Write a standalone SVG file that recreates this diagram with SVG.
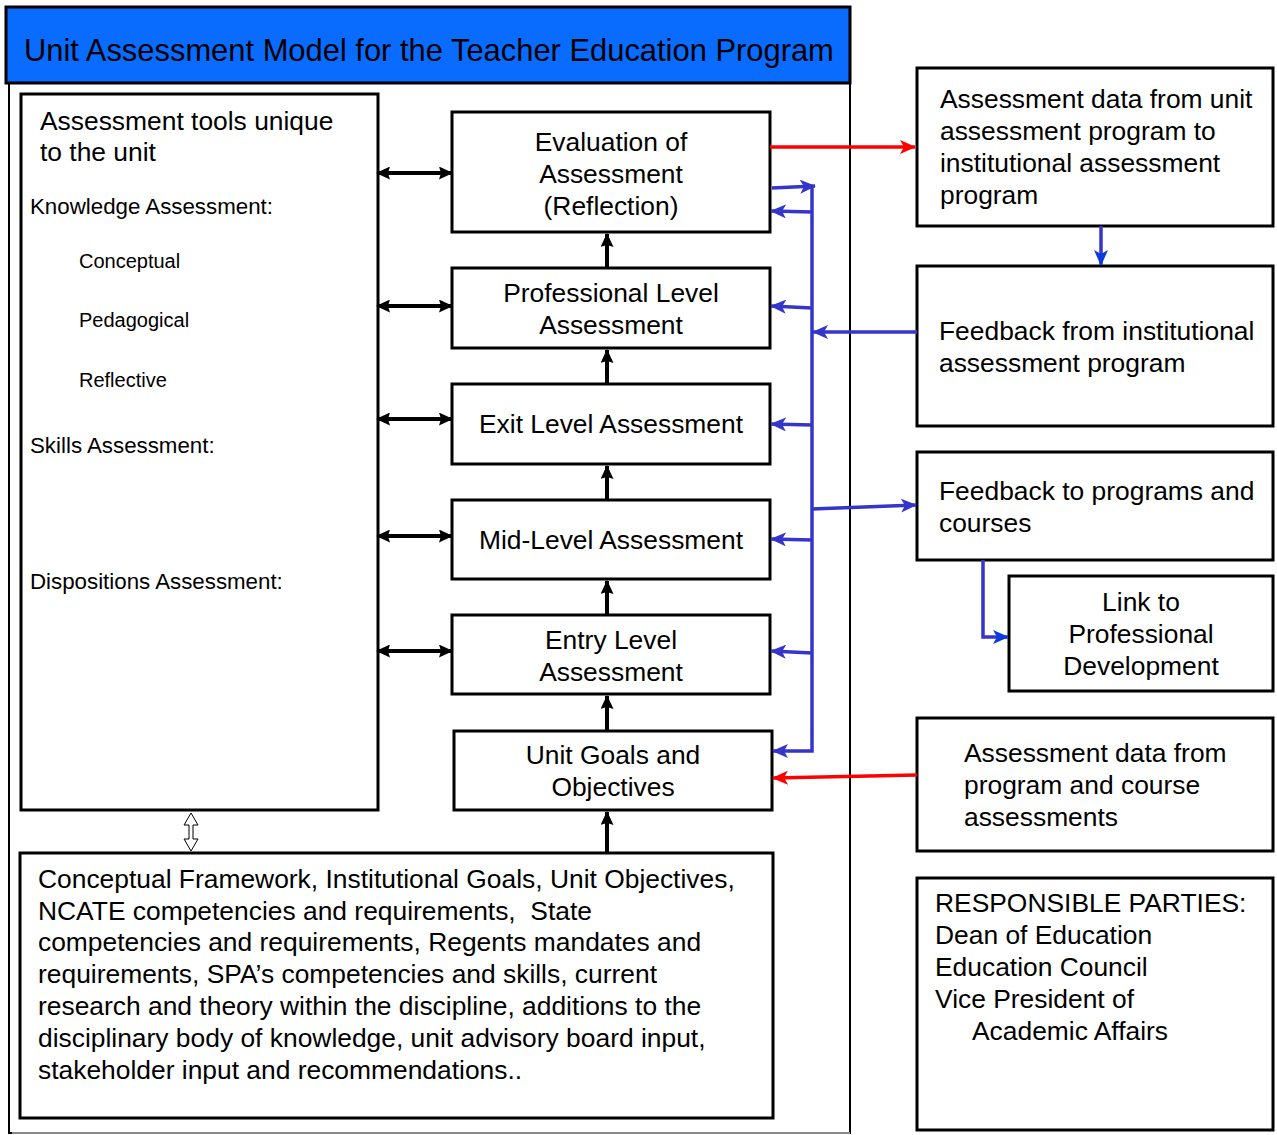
<svg xmlns="http://www.w3.org/2000/svg" width="1277" height="1135" viewBox="0 0 1277 1135">
<style>
.box{fill:#fff;stroke:#000;stroke-width:3}
.t{font-family:"Liberation Sans",Arial,sans-serif;font-size:26.4px;fill:#000}
.s{font-family:"Liberation Sans",Arial,sans-serif;font-size:20px;fill:#000}
.h{font-family:"Liberation Sans",Arial,sans-serif;font-size:22.3px;fill:#000}
.c{text-anchor:middle}
.blk{stroke:#000;stroke-width:4;fill:none}
.blu{stroke:#3535cc;stroke-width:3.5;fill:none}
.red{stroke:#ff0000;stroke-width:3.5;fill:none}
</style>
<defs>
<marker id="ak" markerWidth="14" markerHeight="13" refX="13" refY="6.5" orient="auto-start-reverse" markerUnits="userSpaceOnUse"><path d="M0,0 L14,6.5 L0,13 L2,6.5 Z" fill="#000"/></marker>
<marker id="ab" markerWidth="16" markerHeight="14" refX="15" refY="7" orient="auto-start-reverse" markerUnits="userSpaceOnUse"><path d="M0,0 L16,7 L0,14 L4,7 Z" fill="#3535cc"/></marker>
<marker id="ab2" markerWidth="16" markerHeight="14" refX="15" refY="7" orient="auto" markerUnits="userSpaceOnUse"><path d="M0,0 L16,7 L0,14 L4,7 Z" fill="#0a3ae0"/></marker>
<marker id="ar" markerWidth="16" markerHeight="14" refX="15" refY="7" orient="auto" markerUnits="userSpaceOnUse"><path d="M0,0 L16,7 L0,14 L4,7 Z" fill="#ff0000"/></marker>
<marker id="aw" markerWidth="14" markerHeight="13" refX="13" refY="6.5" orient="auto" markerUnits="userSpaceOnUse"><path d="M0,0 L14,6.5 L0,13 L2,6.5 Z" fill="#000"/></marker>
</defs>
<rect width="1277" height="1135" fill="#fff"/>
<g id="frame">
<path d="M9,83 V1133 H850 V83" fill="none" stroke="#000" stroke-width="2"/>
<line x1="12" y1="1133" x2="850" y2="1133" stroke="#888" stroke-width="2"/>
</g>
<g id="title">
<rect x="6" y="7" width="844" height="76" fill="#0a6bff" stroke="#000" stroke-width="3"/>
<text class="t" x="24" y="61" style="font-size:30.9px">Unit Assessment Model for the Teacher Education Program</text>
</g>
<g id="tools">
<rect class="box" x="21" y="94" width="357" height="716"/>
<text class="t" x="40" y="130">Assessment tools unique</text>
<text class="t" x="40" y="161">to the unit</text>
<text class="h" x="30" y="214">Knowledge Assessment:</text>
<text class="s" x="79" y="268">Conceptual</text>
<text class="s" x="79" y="327">Pedagogical</text>
<text class="s" x="79" y="387">Reflective</text>
<text class="h" x="30" y="453">Skills Assessment:</text>
<text class="h" x="30" y="589">Dispositions Assessment:</text>
</g>
<g id="evaluation">
<rect class="box" x="452" y="112" width="318" height="120"/>
<text class="t c" x="611" y="151">Evaluation of</text>
<text class="t c" x="611" y="183">Assessment</text>
<text class="t c" x="611" y="215">(Reflection)</text>
</g>
<g id="professional">
<rect class="box" x="452" y="268" width="318" height="80"/>
<text class="t c" x="611" y="302">Professional Level</text>
<text class="t c" x="611" y="334">Assessment</text>
</g>
<g id="exit">
<rect class="box" x="452" y="384" width="318" height="80"/>
<text class="t c" x="611" y="433">Exit Level Assessment</text>
</g>
<g id="mid">
<rect class="box" x="452" y="500" width="318" height="79"/>
<text class="t c" x="611" y="549">Mid-Level Assessment</text>
</g>
<g id="entry">
<rect class="box" x="452" y="615" width="318" height="79"/>
<text class="t c" x="611" y="649">Entry Level</text>
<text class="t c" x="611" y="681">Assessment</text>
</g>
<g id="goals">
<rect class="box" x="454" y="731" width="318" height="79"/>
<text class="t c" x="613" y="764">Unit Goals and</text>
<text class="t c" x="613" y="796">Objectives</text>
</g>
<g id="framework">
<rect class="box" x="20" y="853" width="753" height="265"/>
<text class="t" x="38" y="888">Conceptual Framework, Institutional Goals, Unit Objectives,</text>
<text class="t" x="38" y="920" style="white-space:pre">NCATE competencies and requirements,  State</text>
<text class="t" x="38" y="951">competencies and requirements, Regents mandates and</text>
<text class="t" x="38" y="983">requirements, SPA’s competencies and skills, current</text>
<text class="t" x="38" y="1015">research and theory within the discipline, additions to the</text>
<text class="t" x="38" y="1047">disciplinary body of knowledge, unit advisory board input,</text>
<text class="t" x="38" y="1079">stakeholder input and recommendations..</text>
</g>
<g id="data-out">
<rect class="box" x="917" y="68" width="356" height="158"/>
<text class="t" x="940" y="108">Assessment data from unit</text>
<text class="t" x="940" y="140">assessment program to</text>
<text class="t" x="940" y="172">institutional assessment</text>
<text class="t" x="940" y="204">program</text>
</g>
<g id="feedback-in">
<rect class="box" x="917" y="266" width="356" height="160"/>
<text class="t" x="939" y="340">Feedback from institutional</text>
<text class="t" x="939" y="372">assessment program</text>
</g>
<g id="feedback-out">
<rect class="box" x="917" y="452" width="356" height="108"/>
<text class="t" x="939" y="500">Feedback to programs and</text>
<text class="t" x="939" y="532">courses</text>
</g>
<g id="link">
<rect class="box" x="1009" y="576" width="264" height="115"/>
<text class="t c" x="1141" y="611">Link to</text>
<text class="t c" x="1141" y="643">Professional</text>
<text class="t c" x="1141" y="675">Development</text>
</g>
<g id="data-in">
<rect class="box" x="917" y="718" width="356" height="133"/>
<text class="t" x="964" y="762">Assessment data from</text>
<text class="t" x="964" y="794">program and course</text>
<text class="t" x="964" y="826">assessments</text>
</g>
<g id="responsible">
<rect class="box" x="917" y="878" width="356" height="252"/>
<text class="t" x="935" y="912">RESPONSIBLE PARTIES:</text>
<text class="t" x="935" y="944">Dean of Education</text>
<text class="t" x="935" y="976">Education Council</text>
<text class="t" x="935" y="1008">Vice President of</text>
<text class="t" x="972" y="1040">Academic Affairs</text>
</g>
<g id="connectors">
<line class="blk" x1="607" y1="268" x2="607" y2="234" stroke-width="3.5" marker-end="url(#aw)"/>
<line class="blk" x1="607" y1="384" x2="607" y2="350" stroke-width="3.5" marker-end="url(#aw)"/>
<line class="blk" x1="607" y1="500" x2="607" y2="466" stroke-width="3.5" marker-end="url(#aw)"/>
<line class="blk" x1="607" y1="615" x2="607" y2="581" stroke-width="3.5" marker-end="url(#aw)"/>
<line class="blk" x1="607" y1="731" x2="607" y2="696" stroke-width="3.5" marker-end="url(#aw)"/>
<line class="blk" x1="607" y1="853" x2="607" y2="812" stroke-width="3.5" marker-end="url(#aw)"/>
<line class="blk" x1="377" y1="173" x2="452" y2="173" marker-start="url(#ak)" marker-end="url(#ak)"/>
<line class="blk" x1="377" y1="306" x2="452" y2="306" marker-start="url(#ak)" marker-end="url(#ak)"/>
<line class="blk" x1="377" y1="419" x2="452" y2="419" marker-start="url(#ak)" marker-end="url(#ak)"/>
<line class="blk" x1="377" y1="536" x2="452" y2="536" marker-start="url(#ak)" marker-end="url(#ak)"/>
<line class="blk" x1="377" y1="651" x2="452" y2="651" marker-start="url(#ak)" marker-end="url(#ak)"/>
<path d="M191,813 L198,825 L193,825 L193,839 L198,839 L191,851 L184,839 L189,839 L189,825 L184,825 Z" fill="#fff" stroke="#000" stroke-width="1"/>
<line class="red" x1="770" y1="147" x2="915" y2="147" marker-end="url(#ar)"/>
<line class="red" x1="917" y1="775" x2="773" y2="778" marker-end="url(#ar)"/>
<line class="blu" x1="1101" y1="226" x2="1101" y2="265" stroke="#1a4fd8" marker-end="url(#ab2)"/>
<path class="blu" d="M812,186 V751 H773" marker-end="url(#ab)"/>
<line class="blu" x1="772" y1="188" x2="815" y2="186" marker-end="url(#ab)"/>
<line class="blu" x1="812" y1="212" x2="771" y2="211" marker-end="url(#ab)"/>
<line class="blu" x1="812" y1="308" x2="771" y2="306" marker-end="url(#ab)"/>
<line class="blu" x1="812" y1="425" x2="771" y2="424" marker-end="url(#ab)"/>
<line class="blu" x1="812" y1="540" x2="771" y2="539" marker-end="url(#ab)"/>
<line class="blu" x1="812" y1="653" x2="771" y2="651" marker-end="url(#ab)"/>
<line class="blu" x1="917" y1="332" x2="813" y2="332" marker-end="url(#ab)"/>
<line class="blu" x1="812" y1="509" x2="916" y2="505" marker-end="url(#ab)"/>
<path class="blu" d="M983,560 V637 H1008" stroke="#0a3ae0" marker-end="url(#ab2)"/>
</g>
</svg>
